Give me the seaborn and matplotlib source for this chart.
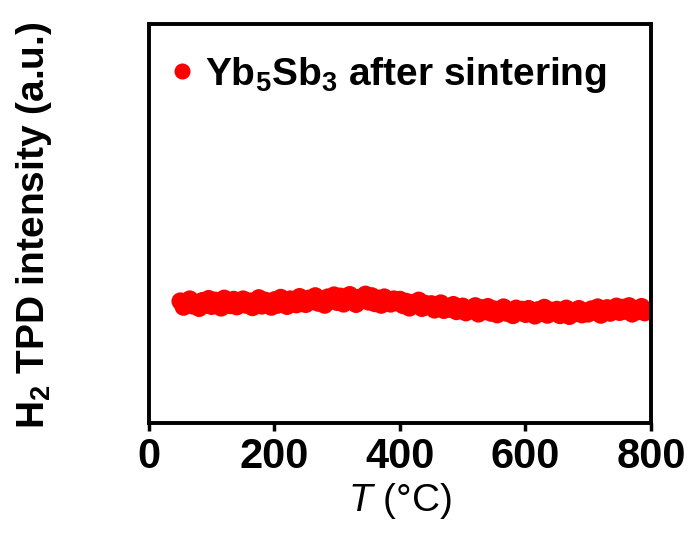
import matplotlib
matplotlib.use("Agg")
import matplotlib.pyplot as plt
import seaborn as sns
import pandas as pd

# Temperature (°C) and H2 TPD intensity (a.u., normalized to the axis height)
temperature = [50, 55, 60, 65, 70, 75, 80, 85, 90, 95,
               100, 105, 110, 115, 120, 125, 130, 135, 140, 145,
               150, 155, 160, 165, 170, 175, 180, 185, 190, 195,
               200, 205, 210, 215, 220, 225, 230, 235, 240, 245,
               250, 255, 260, 265, 270, 275, 280, 285, 290, 295,
               300, 305, 310, 315, 320, 325, 330, 335, 340, 345,
               350, 355, 360, 365, 370, 375, 380, 385, 390, 395,
               400, 405, 410, 415, 420, 425, 430, 435, 440, 445,
               450, 455, 460, 465, 470, 475, 480, 485, 490, 495,
               500, 505, 510, 515, 520, 525, 530, 535, 540, 545,
               550, 555, 560, 565, 570, 575, 580, 585, 590, 595,
               600, 605, 610, 615, 620, 625, 630, 635, 640, 645,
               650, 655, 660, 665, 670, 675, 680, 685, 690, 695,
               700, 705, 710, 715, 720, 725, 730, 735, 740, 745,
               750, 755, 760, 765, 770, 775, 780, 785, 790]
intensity = [0.305, 0.291, 0.302, 0.310, 0.294, 0.299, 0.288, 0.306, 0.296, 0.311,
             0.293, 0.307, 0.299, 0.289, 0.312, 0.301, 0.295, 0.309, 0.292, 0.304,
             0.310, 0.296, 0.305, 0.290, 0.301, 0.313, 0.294, 0.307, 0.298, 0.291,
             0.308, 0.296, 0.314, 0.301, 0.293, 0.310, 0.304, 0.297, 0.316, 0.300,
             0.298, 0.312, 0.305, 0.318, 0.301, 0.309, 0.296, 0.315, 0.307, 0.320,
             0.303, 0.317, 0.299, 0.312, 0.321, 0.306, 0.298, 0.314, 0.309, 0.322,
             0.304, 0.318, 0.300, 0.312, 0.296, 0.315, 0.307, 0.299, 0.310, 0.302,
             0.309, 0.295, 0.304, 0.289, 0.301, 0.296, 0.307, 0.288, 0.299, 0.292,
             0.298, 0.284, 0.293, 0.300, 0.283, 0.290, 0.286, 0.296, 0.280, 0.289,
             0.292, 0.277, 0.286, 0.282, 0.293, 0.274, 0.288, 0.280, 0.291, 0.276,
             0.285, 0.272, 0.283, 0.290, 0.276, 0.281, 0.270, 0.287, 0.278, 0.284,
             0.273, 0.286, 0.280, 0.269, 0.283, 0.276, 0.289, 0.271, 0.282, 0.277,
             0.284, 0.270, 0.279, 0.287, 0.268, 0.281, 0.275, 0.286, 0.272, 0.280,
             0.274, 0.285, 0.279, 0.290, 0.271, 0.283, 0.288, 0.276, 0.284, 0.292,
             0.278, 0.289, 0.281, 0.293, 0.274, 0.286, 0.280, 0.291, 0.277]
series_label = "Yb$_5$Sb$_3$ after sintering"
x_ticks = [0, 200, 400, 600, 800]

df = pd.DataFrame({"T": temperature, "I": intensity, "s": series_label})

sns.set_theme(style="white")
plt.rcParams["font.family"] = ["Liberation Sans", "DejaVu Sans"]
plt.rcParams["text.color"] = "black"
plt.rcParams["axes.labelcolor"] = "black"
plt.rcParams["xtick.color"] = "black"
plt.rcParams["ytick.color"] = "black"
plt.rcParams["mathtext.fontset"] = "custom"
plt.rcParams["mathtext.rm"] = "Liberation Sans:bold"
plt.rcParams["mathtext.it"] = "Liberation Sans:italic"
plt.rcParams["mathtext.bf"] = "Liberation Sans:bold"

fig = plt.figure(figsize=(6.91, 5.33), dpi=100)
ax = fig.add_axes([0.2156, 0.2064, 0.7265, 0.7486])

sns.scatterplot(data=df, x="T", y="I", hue="s", palette=["#ff0000"],
                s=165, linewidth=0, edgecolor="none", ax=ax)

ax.set_xlim(0, 800)
ax.set_ylim(0, 1)
ax.set_xticks(x_ticks)
ax.set_xticklabels([str(t) for t in x_ticks], fontweight="bold")
ax.set_yticks([])
ax.tick_params(axis="x", which="both", bottom=True, direction="out",
               length=6, width=2.5, labelsize=30, pad=4, color="black")
for sp in ax.spines.values():
    sp.set_linewidth(2.8)
    sp.set_color("black")

ax.set_xlabel("$T$ (°C)", fontsize=28, labelpad=3)
ax.set_ylabel("H$_2$ TPD intensity (a.u.)", fontsize=28, fontweight="bold")
ax.yaxis.set_label_coords(-0.19, 0.495)

leg = ax.legend(loc="upper left", bbox_to_anchor=(0.0, 0.962), frameon=False,
                handletextpad=0.15, markerscale=0.9, borderaxespad=0.0,
                handlelength=0.9, prop={"size": 28, "weight": "bold"})

fig.savefig("out.png", dpi=100)
